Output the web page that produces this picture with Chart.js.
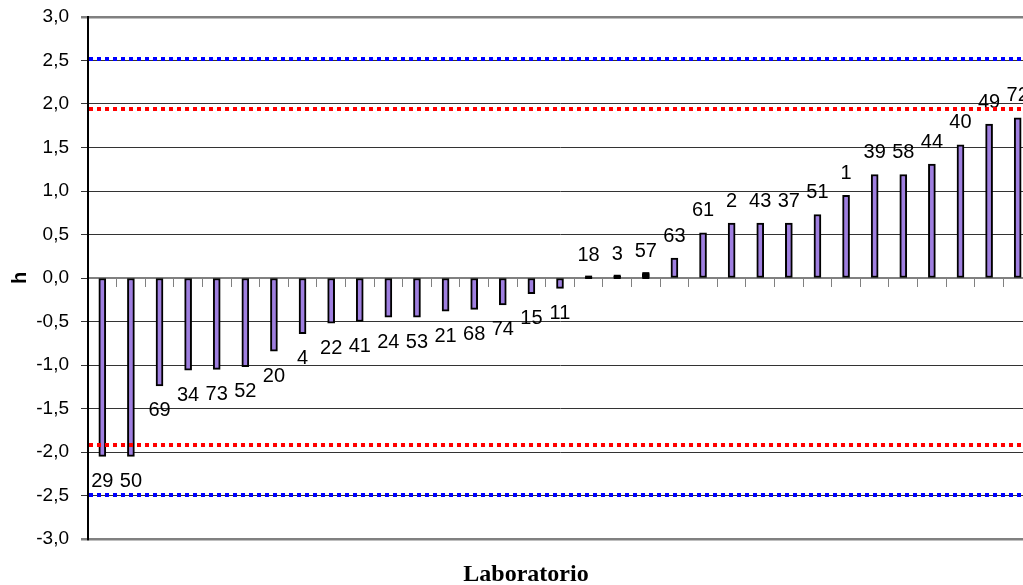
<!DOCTYPE html>
<html>
<head>
<meta charset="utf-8">
<script src="https://cdn.jsdelivr.net/npm/chart.js@4"></script>
<style>
  html, body { margin: 0; padding: 0; background: #fff; overflow: hidden; }
  #wrap { width: 1040px; height: 585px; }
</style>
</head>
<body>
<div id="wrap"><canvas id="chart" width="1040" height="585"></canvas></div>
<script>
//Datos del grafico
var laboratorios = ['29','50','69','34','73','52','20','4','22','41','24','53','21','68','74','15','11',
                    '18','3','57','63','61','2','43','37','51','1','39','58','44','40','49','72'];
var valoresH = [-2.05,-2.05,-1.24,-1.06,-1.05,-1.02,-0.84,-0.64,-0.52,-0.50,-0.45,-0.45,-0.38,-0.36,-0.31,-0.18,-0.12,
                0.01,0.02,0.05,0.23,0.52,0.63,0.63,0.63,0.73,0.95,1.19,1.19,1.31,1.53,1.77,1.84];
var limitesAzul = [2.52, -2.49];
var limitesRojo = [1.94, -1.92];
var ejeY = { min: -3, max: 3, paso: 0.5 };

//Etiquetas encima/debajo de cada barra
var etiquetasBarras = {
  id: 'etiquetasBarras',
  afterDatasetsDraw: function(chart) {
    var ctx = chart.ctx;
    var meta = chart.getDatasetMeta(0);
    ctx.save();
    ctx.font = '20px "Liberation Sans", Arial, sans-serif';
    ctx.fillStyle = '#000';
    ctx.textAlign = 'center';
    ctx.textBaseline = 'middle';
    meta.data.forEach(function(bar, i) {
      var v = valoresH[i];
      var y = v >= 0 ? bar.y - 22 : bar.y + 25;
      ctx.fillText(laboratorios[i], bar.x, y);
    });
    ctx.restore();
  }
};

//Lineas punteadas de los limites
var lineasLimite = {
  id: 'lineasLimite',
  afterDatasetsDraw: function(chart) {
    var ctx = chart.ctx;
    var area = chart.chartArea;
    var y = chart.scales.y;
    function linea(valor, color) {
      var py = Math.round(y.getPixelForValue(valor));
      ctx.save();
      ctx.strokeStyle = color;
      ctx.lineWidth = 4;
      ctx.setLineDash([4, 4]);
      ctx.beginPath();
      ctx.moveTo(area.left + 1, py);
      ctx.lineTo(area.right, py);
      ctx.stroke();
      ctx.restore();
    }
    limitesRojo.forEach(function(v) { linea(v, '#ff0000'); });
    limitesAzul.forEach(function(v) { linea(v, '#0000ff'); });
  }
};

//Barras muy pequenas: el borde sobresale como en el original
var bordeExterior = {
  id: 'bordeExterior',
  afterDatasetsDraw: function(chart) {
    var ctx = chart.ctx;
    var meta = chart.getDatasetMeta(0);
    ctx.save();
    ctx.fillStyle = '#000';
    meta.data.forEach(function(bar) {
      var h = Math.abs(bar.base - bar.y);
      if (h < 4) {
        var top = Math.min(bar.y, bar.base) - 1.5;
        ctx.fillRect(bar.x - bar.width / 2, top, bar.width, h + 3);
      }
    });
    ctx.restore();
  }
};

//Titulo del eje X
var tituloX = {
  id: 'tituloX',
  afterDraw: function(chart) {
    var ctx = chart.ctx;
    ctx.save();
    ctx.font = 'bold 24px "Liberation Serif", "Times New Roman", serif';
    ctx.fillStyle = '#000';
    ctx.textAlign = 'center';
    ctx.textBaseline = 'alphabetic';
    ctx.fillText('Laboratorio', 526, 581);
    ctx.restore();
  }
};

var config = {
  type: 'bar',
  data: {
    labels: laboratorios,
    datasets: [{
      data: valoresH,
      backgroundColor: '#9f7fe0',
      borderColor: '#000',
      borderWidth: 2,
      borderSkipped: false,
      barThickness: 7
    }]
  },
  options: {
    responsive: false,
    animation: false,
    layout: { padding: { left: 0, top: 17, right: 8, bottom: 46 } },
    plugins: {
      legend: { display: false },
      tooltip: { enabled: false }
    },
    scales: {
      x: {
        type: 'category',
        position: { y: 0 },
        afterFit: function(s) { s.height = 0; },
        ticks: { display: false },
        grid: { drawOnChartArea: false, offset: true, tickLength: 8, color: '#808080', lineWidth: 1 },
        border: { color: '#808080', width: 2 }
      },
      y: {
        min: ejeY.min,
        max: ejeY.max,
        afterFit: function(s) { s.width = 88; s.paddingTop = 0; s.paddingBottom = 0; },
        ticks: {
          stepSize: ejeY.paso,
          padding: 12,
          color: '#000',
          font: { family: '"Liberation Sans", Arial, sans-serif', size: 19 },
          callback: function(v) { return v.toFixed(1).replace('.', ','); }
        },
        grid: {
          tickLength: 7,
          color: function(c) {
            return (c.tick && Math.abs(c.tick.value) === 3) ? '#808080' : '#333';
          },
          lineWidth: function(c) {
            return (c.tick && Math.abs(c.tick.value) === 3) ? 2.5 : 1;
          }
        },
        border: { color: '#000', width: 2 },
        title: {
          display: true,
          text: 'h',
          color: '#000',
          padding: 8,
          font: { family: '"Liberation Sans", Arial, sans-serif', size: 20, weight: 'bold' }
        }
      }
    }
  },
  plugins: [etiquetasBarras, lineasLimite, bordeExterior, tituloX]
};

var ctx = document.getElementById('chart').getContext('2d');
window.grafico = new Chart(ctx, config);
</script>
</body>
</html>
